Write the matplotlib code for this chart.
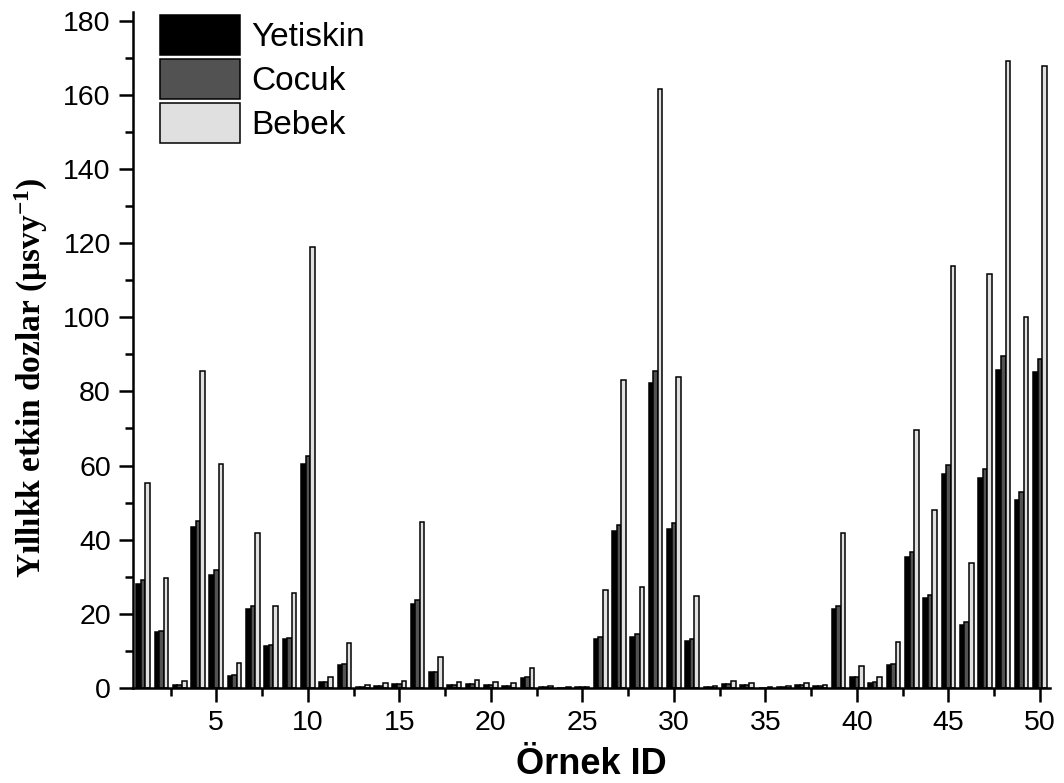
import matplotlib
matplotlib.use("Agg")
import matplotlib.pyplot as plt
import numpy as np
from matplotlib.ticker import MultipleLocator

sample_ids = list(range(1, 51))
yetiskin = [28.1, 15.0, 0.9, 43.5, 30.5, 3.3, 21.3, 11.2, 13.2, 60.4,
            1.6, 6.1, 0.4, 0.5, 1.0, 22.6, 4.2, 0.8, 1.1, 0.8,
            0.6, 2.7, 0.2, 0.1, 0.2, 13.3, 42.3, 13.8, 82.2, 43.0,
            12.8, 0.2, 1.0, 0.7, 0.1, 0.3, 0.7, 0.45, 21.3, 3.1,
            1.3, 6.2, 35.3, 24.3, 57.8, 17.1, 56.6, 85.9, 50.8, 85.3]
cocuk = [29.1, 15.5, 0.9, 45.1, 31.8, 3.5, 22.2, 11.7, 13.6, 62.5,
         1.6, 6.5, 0.4, 0.55, 1.05, 23.7, 4.4, 0.85, 1.15, 0.85,
         0.65, 2.9, 0.2, 0.1, 0.2, 13.8, 44.0, 14.6, 85.4, 44.6,
         13.3, 0.25, 1.05, 0.75, 0.1, 0.3, 0.75, 0.5, 22.0, 3.1,
         1.6, 6.5, 36.8, 25.2, 60.2, 17.7, 59.0, 89.5, 52.8, 88.6]
bebek = [55.2, 29.6, 1.8, 85.5, 60.4, 6.7, 41.9, 22.2, 25.7, 118.9,
         3.1, 12.1, 0.9, 1.3, 2.0, 44.7, 8.3, 1.7, 2.1, 1.7,
         1.3, 5.5, 0.5, 0.2, 0.4, 26.3, 83.0, 27.2, 161.5, 84.0,
         24.8, 0.5, 1.9, 1.4, 0.2, 0.6, 1.35, 0.7, 41.7, 6.0,
         3.0, 12.3, 69.7, 48.0, 113.8, 33.6, 111.6, 169.0, 100.1, 167.8]
series_names = ["Yetiskin", "Cocuk", "Bebek"]
series_colors = ["#000000", "#525252", "#e0e0e0"]

plt.rcParams['font.family'] = ['Liberation Sans', 'DejaVu Sans']
plt.rcParams['mathtext.fontset'] = 'custom'
plt.rcParams['mathtext.rm'] = 'Liberation Serif:bold'
plt.rcParams['mathtext.bf'] = 'Liberation Serif:bold'
plt.rcParams['mathtext.it'] = 'Liberation Serif:bold'

fig = plt.figure(figsize=(10.64, 7.83), dpi=100)
ax = fig.add_axes([133/1064, (783-688)/783, (1050-133)/1064, (688-11.7)/783])

x = np.array(sample_ids, dtype=float)
w = 0.25
for i, (vals, name, col) in enumerate(zip([yetiskin, cocuk, bebek], series_names, series_colors)):
    ax.bar(x + (i - 1) * w, vals, width=w, color=col, edgecolor='black',
           linewidth=1.1, label=name)

ax.set_xlim(0.45, 50.55)
ax.set_ylim(0, 182.4)
ax.xaxis.set_major_locator(MultipleLocator(5))
ax.xaxis.set_minor_locator(MultipleLocator(2.5))
ax.yaxis.set_major_locator(MultipleLocator(20))
ax.yaxis.set_minor_locator(MultipleLocator(10))

for s in ['top', 'right']:
    ax.spines[s].set_visible(False)
for s in ['left', 'bottom']:
    ax.spines[s].set_linewidth(1.8)

ax.tick_params(axis='both', which='major', direction='out', length=10, width=1.8,
               labelsize=20.5, pad=6)
ax.tick_params(axis='both', which='minor', direction='out', length=6, width=1.8)

ax.set_xlabel("Örnek ID", fontsize=26, fontweight='bold', labelpad=8)
ax.set_ylabel(r"Yıllıkk etkin dozlar (μsvy$^{-1}$)", fontsize=24, fontweight='bold',
              family=['Liberation Serif', 'DejaVu Serif'])
ax.yaxis.set_label_coords((50-133)/917, (688-378)/676.3)

leg = ax.legend(loc='upper left', bbox_to_anchor=((160-133)/(1050-133), (688-15)/(688-11.7)),
                frameon=False, fontsize=24, handlelength=2.4, handleheight=1.47,
                labelspacing=0.12, handletextpad=0.33, borderpad=0, borderaxespad=0)

fig.savefig("out.png", dpi=100)
